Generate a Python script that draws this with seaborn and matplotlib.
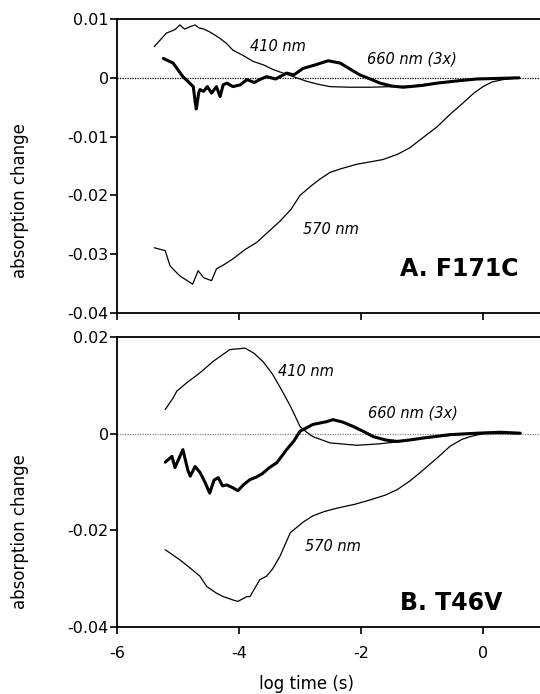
import matplotlib
matplotlib.use("Agg")
import matplotlib.pyplot as plt
import seaborn as sns

# ---------------- data ----------------
# Panel A (F171C)
a410_x = [-5.39, -5.19, -5.05, -4.97, -4.93, -4.89, -4.80, -4.72, -4.66, -4.58, -4.48, -4.40,
          -4.31, -4.20, -4.10, -3.95, -3.77, -3.60, -3.44, -3.25, -3.11, -2.89, -2.70, -2.51,
          -2.20, -1.85, -1.50, -1.20, -0.85, -0.49, -0.10, 0.23, 0.59]
a410_y = [0.0053, 0.0076, 0.0082, 0.0090, 0.0086, 0.0083, 0.0087, 0.0090, 0.0085, 0.0083, 0.0078, 0.0073,
          0.0067, 0.0058, 0.0047, 0.0039, 0.0028, 0.0022, 0.0014, 0.0007, 0.0002, -0.0006, -0.0011, -0.0015,
          -0.0016, -0.0016, -0.0015, -0.0014, -0.0010, -0.0006, -0.0002, -0.0001, 0.0]

a660_x = [-5.24, -5.08, -4.92, -4.80, -4.75, -4.72, -4.70, -4.66, -4.64, -4.58, -4.52, -4.45,
          -4.37, -4.31, -4.26, -4.20, -4.10, -3.98, -3.87, -3.75, -3.66, -3.55, -3.40, -3.22,
          -3.10, -2.95, -2.75, -2.54, -2.34, -2.15, -2.02, -1.85, -1.69, -1.50, -1.31, -1.00,
          -0.75, -0.40, -0.10, 0.59]
a660_y = [0.0033, 0.0025, 0.0002, -0.0010, -0.0015, -0.0040, -0.0053, -0.0025, -0.0020, -0.0023, -0.0015, -0.0026,
          -0.0015, -0.0032, -0.0012, -0.0009, -0.0015, -0.0012, -0.0003, -0.0008, -0.0003, 0.0002, -0.0002, 0.0008,
          0.0005, 0.0016, 0.0022, 0.0029, 0.0025, 0.0013, 0.0005, -0.0002, -0.0009, -0.0014, -0.0016, -0.0013,
          -0.0009, -0.0005, -0.0002, 0.0]

a570_x = [-5.39, -5.21, -5.13, -4.97, -4.85, -4.76, -4.67, -4.58, -4.45, -4.37, -4.25, -4.10,
          -3.90, -3.71, -3.50, -3.33, -3.15, -3.00, -2.82, -2.67, -2.51, -2.34, -2.07, -1.85,
          -1.64, -1.40, -1.20, -1.00, -0.75, -0.55, -0.33, -0.15, 0.0, 0.15, 0.33, 0.59]
a570_y = [-0.0289, -0.0294, -0.0320, -0.0337, -0.0345, -0.0351, -0.0328, -0.0340, -0.0345, -0.0325, -0.0318, -0.0308,
          -0.0292, -0.0280, -0.0260, -0.0244, -0.0224, -0.0200, -0.0184, -0.0172, -0.0161, -0.0155, -0.0147, -0.0143,
          -0.0139, -0.0130, -0.0119, -0.0103, -0.0083, -0.0063, -0.0043, -0.0026, -0.0015, -0.0007, -0.0003, 0.0]

# Panel B (T46V)
b410_x = [-5.21, -5.08, -5.02, -4.86, -4.64, -4.42, -4.15, -3.90, -3.75, -3.60, -3.45, -3.30,
          -3.15, -3.00, -2.90, -2.79, -2.51, -2.07, -1.70, -1.41, -1.05, -0.75, -0.40, -0.10, 0.61]
b410_y = [0.0050, 0.0074, 0.0088, 0.0105, 0.0126, 0.0150, 0.0174, 0.0177, 0.0166, 0.0148, 0.0123, 0.0090,
          0.0055, 0.0015, 0.0004, -0.0006, -0.0019, -0.0024, -0.0021, -0.0017, -0.0011, -0.0006, -0.0002, 0.0001, 0.0001]

b660_x = [-5.21, -5.10, -5.05, -4.92, -4.84, -4.80, -4.72, -4.64, -4.56, -4.48, -4.41, -4.34,
          -4.27, -4.20, -4.10, -4.02, -3.92, -3.82, -3.72, -3.62, -3.50, -3.38, -3.22, -3.10,
          -3.00, -2.79, -2.56, -2.46, -2.30, -2.13, -1.95, -1.80, -1.60, -1.41, -1.20, -0.98,
          -0.54, -0.10, 0.28, 0.61]
b660_y = [-0.0059, -0.0047, -0.0070, -0.0033, -0.0075, -0.0088, -0.0068, -0.0080, -0.0100, -0.0123, -0.0096, -0.0091,
          -0.0108, -0.0106, -0.0112, -0.0118, -0.0105, -0.0095, -0.0090, -0.0083, -0.0070, -0.0060, -0.0033, -0.0015,
          0.0005, 0.0019, 0.0025, 0.0029, 0.0024, 0.0015, 0.0004, -0.0006, -0.0013, -0.0016, -0.0013, -0.0009,
          -0.0002, 0.0001, 0.0003, 0.0001]

b570_x = [-5.21, -4.97, -4.80, -4.64, -4.53, -4.37, -4.26, -4.10, -4.02, -3.87, -3.82, -3.66,
          -3.55, -3.45, -3.33, -3.16, -2.95, -2.79, -2.60, -2.39, -2.10, -1.85, -1.60, -1.41,
          -1.20, -0.98, -0.75, -0.54, -0.35, -0.21, 0.0, 0.30, 0.60]
b570_y = [-0.0240, -0.0261, -0.0278, -0.0295, -0.0316, -0.0330, -0.0337, -0.0344, -0.0347, -0.0337, -0.0337, -0.0302,
          -0.0295, -0.0280, -0.0254, -0.0205, -0.0183, -0.0170, -0.0161, -0.0154, -0.0146, -0.0137, -0.0127, -0.0116,
          -0.0098, -0.0075, -0.0050, -0.0026, -0.0012, -0.0006, 0.0, 0.0, 0.0]

x_ticks = [-6, -4, -2, 0]
x_tick_labels = ["-6", "-4", "-2", "0"]
a_yticks = [-0.04, -0.03, -0.02, -0.01, 0.0, 0.01]
a_ytick_labels = ["-0.04", "-0.03", "-0.02", "-0.01", "0", "0.01"]
b_yticks = [-0.04, -0.02, 0.0, 0.02]
b_ytick_labels = ["-0.04", "-0.02", "0", "0.02"]

# ---------------- style ----------------
sns.set_style("ticks")
plt.rcParams["font.family"] = ["DejaVu Sans"]
plt.rcParams["axes.unicode_minus"] = False
for k in ["text.color", "axes.labelcolor", "xtick.color", "ytick.color", "axes.edgecolor"]:
    plt.rcParams[k] = "black"

fig = plt.figure(figsize=(5.4, 6.94), dpi=100)
axA = fig.add_axes([0.2167, 0.549, 0.7833, 0.4236])
axB = fig.add_axes([0.2167, 0.0965, 0.7833, 0.4179])


def draw(ax, s410, s660, s570, zero_color):
    ax.axhline(0, color=zero_color, lw=0.9, ls=(0, (1, 1)), zorder=1)
    sns.lineplot(x=s410[0], y=s410[1], ax=ax, color="black", lw=0.9, sort=False, estimator=None)
    sns.lineplot(x=s570[0], y=s570[1], ax=ax, color="black", lw=0.9, sort=False, estimator=None)
    sns.lineplot(x=s660[0], y=s660[1], ax=ax, color="black", lw=2.2, sort=False, estimator=None)
    ax.set_xlim(-6, 0.934)
    ax.set_xticks(x_ticks)
    for sp in ["left", "bottom", "top"]:
        ax.spines[sp].set_linewidth(1.3)
        ax.spines[sp].set_color("black")
    ax.spines["right"].set_visible(False)
    ax.tick_params(direction="out", length=5, width=1.2, color="black",
                   labelcolor="black", labelsize=11.5)
    ax.tick_params(axis="y", pad=1)
    ax.tick_params(axis="x", pad=9)


draw(axA, (a410_x, a410_y), (a660_x, a660_y), (a570_x, a570_y), "black")
draw(axB, (b410_x, b410_y), (b660_x, b660_y), (b570_x, b570_y), "#888888")

axA.set_ylim(-0.04, 0.01)
axA.set_yticks(a_yticks)
axA.set_yticklabels(a_ytick_labels)
axA.set_xticklabels([])
axA.set_xlabel("")

axB.set_ylim(-0.04, 0.02)
axB.set_yticks(b_yticks)
axB.set_yticklabels(b_ytick_labels)
axB.set_xticklabels(x_tick_labels)

axA.set_ylabel("absorption change", fontsize=12, color="black")
axB.set_ylabel("absorption change", fontsize=12, color="black")
axA.yaxis.set_label_coords(-0.208, 0.384)
axB.yaxis.set_label_coords(-0.208, 0.33)
axB.set_xlabel("log time (s)", fontsize=12, color="black")
axB.xaxis.set_label_coords(0.447, -0.166)

it = dict(fontsize=10.5, style="italic", ha="left", va="center", color="black")
axA.text(-3.82, 0.00525, "410 nm", **it)
axA.text(-1.90, 0.0032, "660 nm (3x)", **it)
axA.text(-2.95, -0.0258, "570 nm", **it)
axA.text(-1.36, -0.0325, "A. F171C", fontsize=17, weight="bold", ha="left", va="center", color="black")

axB.text(-3.36, 0.0128, "410 nm", **it)
axB.text(-1.89, 0.00435, "660 nm (3x)", **it)
axB.text(-2.92, -0.0234, "570 nm", **it)
axB.text(-1.36, -0.0350, "B. T46V", fontsize=17, weight="bold", ha="left", va="center", color="black")

fig.savefig("out.png", dpi=100)
